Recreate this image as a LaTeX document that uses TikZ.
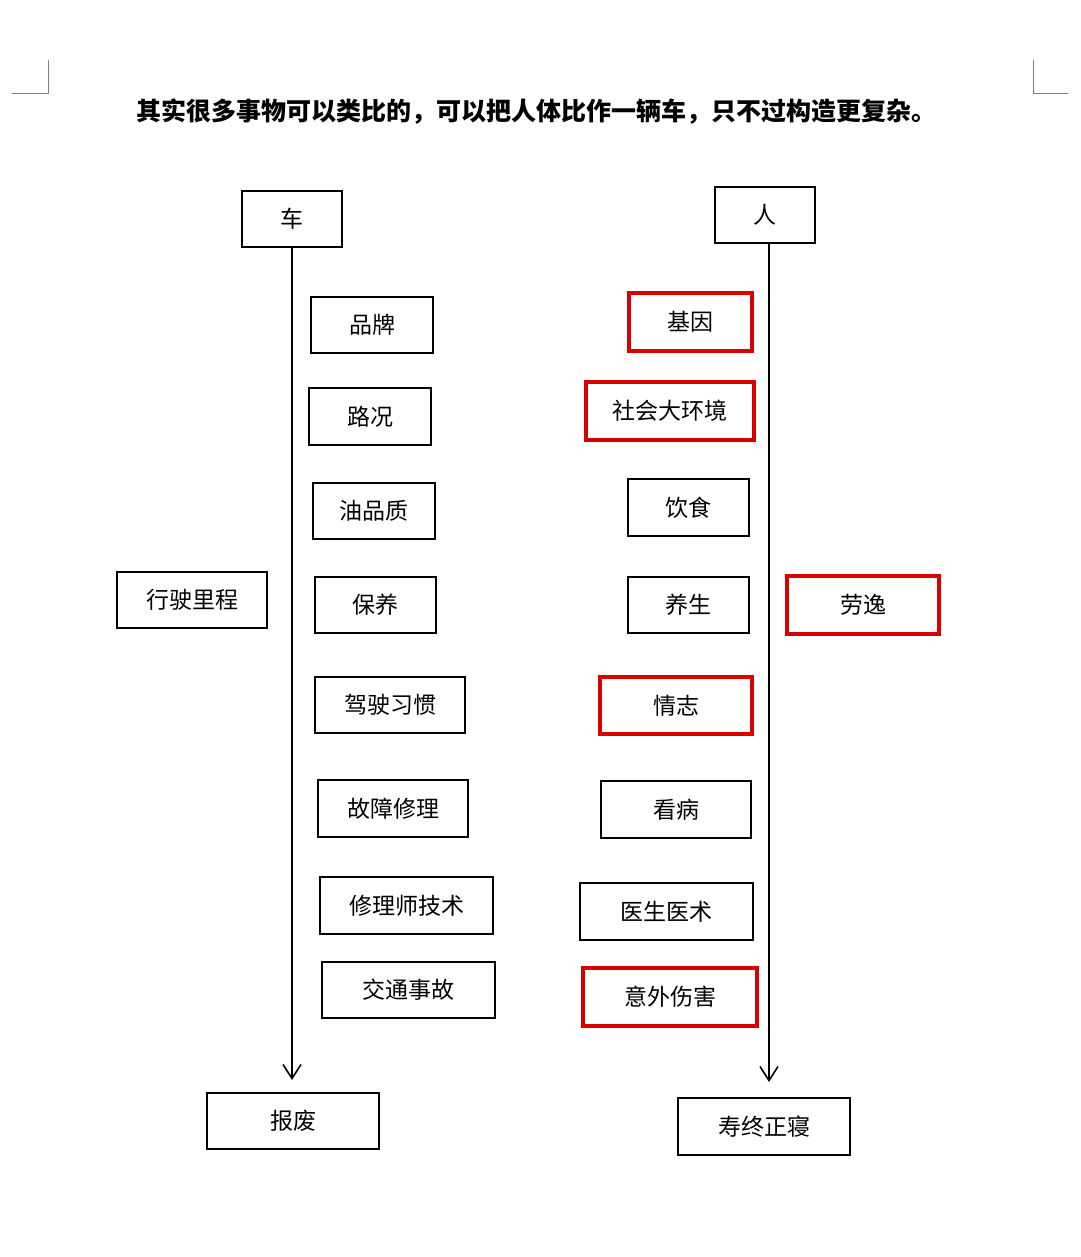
\documentclass[tikz,border=0pt]{standalone}
\usepackage{fontspec}
\setmainfont{Noto Sans CJK SC}
\usetikzlibrary{arrows.meta}
\begin{document}
\begin{tikzpicture}[x=1pt,y=-1pt,
  bx/.style={draw=black,line width=1.8pt,inner sep=0pt,font=\fontsize{23}{23}\selectfont},
  rbx/.style={bx,draw=red!85!black,line width=3.5pt},
  ar/.style={line width=1.6pt,-{Straight Barb[length=14pt,width=18pt,line width=1.6pt]}}]
\useasboundingbox (0,0) rectangle (1080,1257);
\fill[white] (0,0) rectangle (1080,1257);
\newcommand\bxat[6]{\node[#1,minimum width={#4-#2},minimum height={#5-#3}] (#6) at ({(#2+#4)/2},{(#3+#5)/2})}
\draw[line width=0.8pt,gray] (48,60) -- (48,93) -- (12,93);
\draw[line width=0.8pt,gray] (1033,60) -- (1033,93) -- (1068,93);
\node[font=\fontsize{25}{25}\selectfont\bfseries] (title) at (536,112) {其实很多事物可以类比的，可以把人体比作一辆车，只不过构造更复杂。};
\bxat{bx}{242}{191}{342}{247}{che} {车};
\bxat{bx}{715}{187}{815}{243}{ren} {人};
\bxat{bx}{207}{1093}{379}{1149}{bf} {报废};
\bxat{bx}{678}{1098}{850}{1155}{sz} {寿终正寝};
\coordinate (la) at (292,1080);
\coordinate (ra) at (769,1082);
\draw[ar] (che.south) -- (la);
\draw[ar] (ren.south -| ra) -- (ra);
\bxat{bx}{311}{297}{433}{353}{l1} {品牌};
\bxat{bx}{309}{388}{431}{445}{l2} {路况};
\bxat{bx}{313}{483}{435}{539}{l3} {油品质};
\bxat{bx}{117}{572}{267}{628}{l0} {行驶里程};
\bxat{bx}{315}{577}{436}{633}{l4} {保养};
\bxat{bx}{315}{677}{465}{733}{l5} {驾驶习惯};
\bxat{bx}{318}{780}{468}{837}{l6} {故障修理};
\bxat{bx}{320}{877}{493}{934}{l7} {修理师技术};
\bxat{bx}{322}{962}{495}{1018}{l8} {交通事故};
\bxat{rbx}{629}{293}{752}{351}{r1} {基因};
\bxat{rbx}{586}{382}{754}{440}{r2} {社会大环境};
\bxat{bx}{628}{479}{749}{536}{r3} {饮食};
\bxat{bx}{628}{577}{749}{633}{r4} {养生};
\bxat{rbx}{787}{576}{939}{634}{r0} {劳逸};
\bxat{rbx}{600}{677}{752}{734}{r5} {情志};
\bxat{bx}{601}{781}{751}{838}{r6} {看病};
\bxat{bx}{580}{883}{753}{940}{r7} {医生医术};
\bxat{rbx}{583}{968}{757}{1026}{r8} {意外伤害};
\end{tikzpicture}
\end{document}
